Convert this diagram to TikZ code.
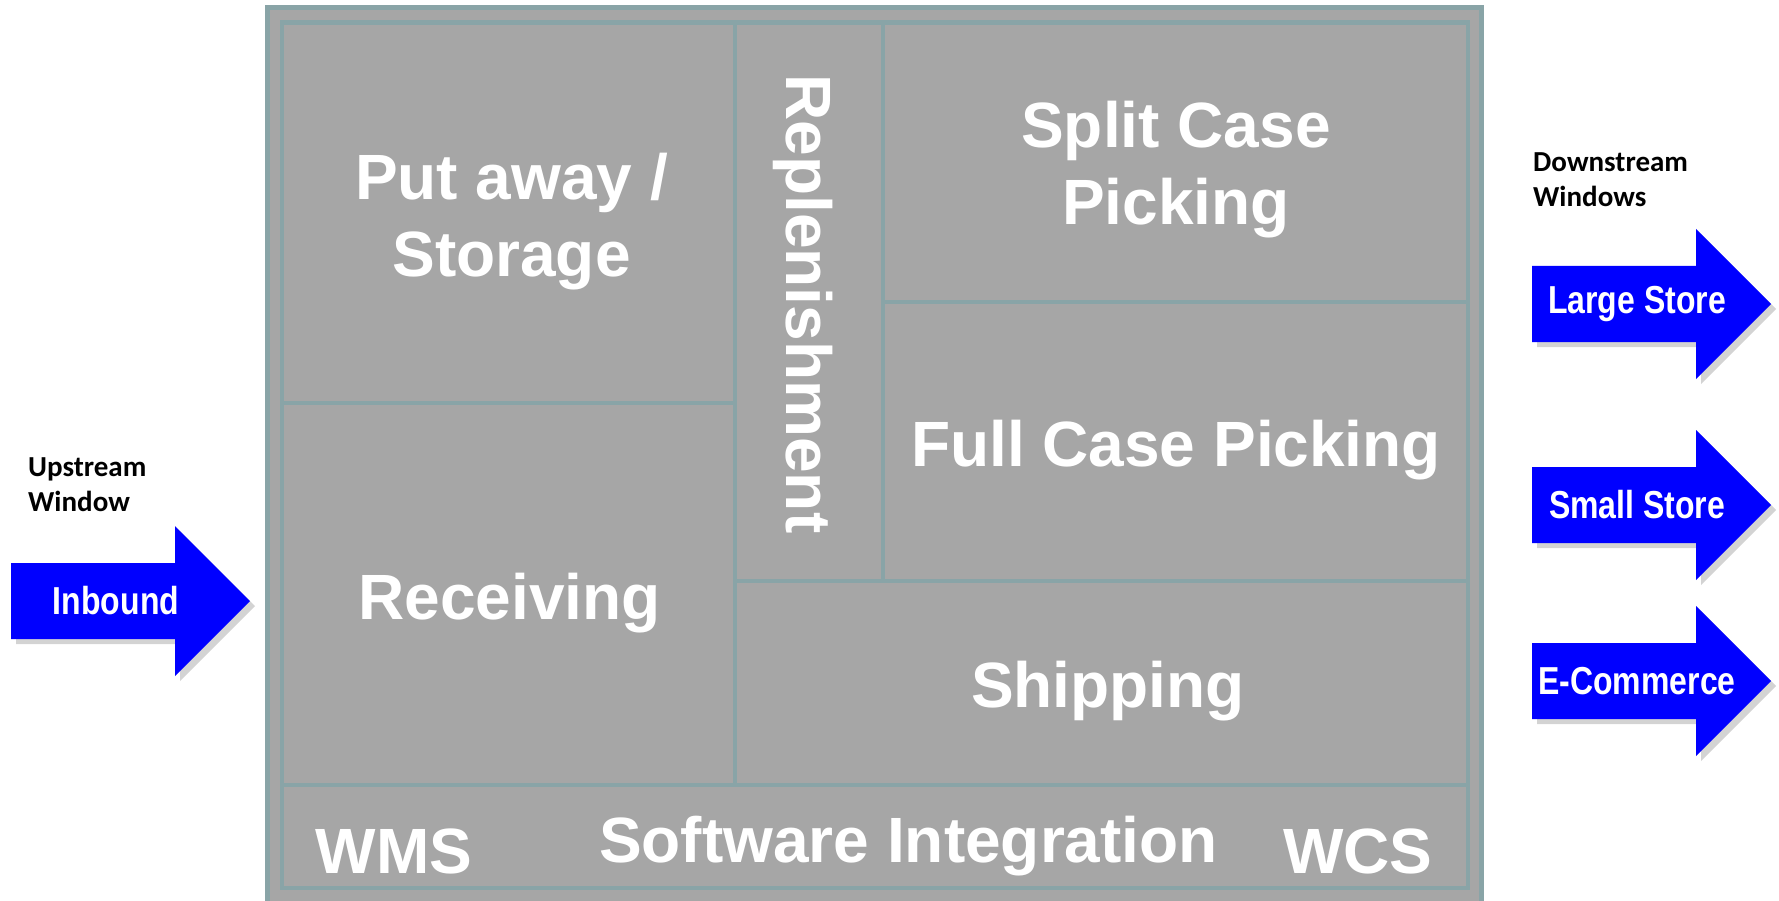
\documentclass[tikz,border=0pt]{standalone}
\usepackage{fontspec}
\setmainfont{Liberation Sans}
\newfontfamily\narrowfont[FakeStretch=0.82]{Liberation Sans}
\newfontfamily\notefont{Carlito}
\usetikzlibrary{positioning,shadows}
\definecolor{framegray}{RGB}{137,164,167}
\definecolor{boxgray}{RGB}{166,166,166}
\definecolor{flowblue}{RGB}{0,0,255}

\begin{document}
\begin{tikzpicture}[
   x=1pt, y=-1pt,
   area/.style={draw=framegray, line width=4.5pt, fill=boxgray, inner sep=0pt,
      outer sep=0pt},
   areatext/.style={text=white, font=\fontsize{64}{77}\selectfont\bfseries,
      align=center, inner sep=0pt},
   flow/.style={fill=flowblue, drop shadow={shadow xshift=5pt, shadow yshift=-5pt,
      opacity=0.35}},
   flowtxt/.style={text=white, font=\narrowfont\fontsize{39}{45}\selectfont\bfseries,
      inner sep=0pt},
   window/.style={font=\notefont\fontsize{29}{35}\selectfont\bfseries, align=left,
      anchor=west, inner sep=0pt}
]
\useasboundingbox (0,0) rectangle (1779,901);
\clip (0,0) rectangle (1779,901);

% warehouse block
\node[area, minimum width=1214pt, minimum height=920pt] (frame) at (874.5,467.5) {};
\node[area, minimum width=453pt, minimum height=380.5pt] (putaway) at (508.5,212.75) {};
\node[area, minimum width=453pt, minimum height=382pt] (receiving) at (508.5,594) {};
\node[area, minimum width=148pt, minimum height=558.5pt] (repl) at (809,301.75) {};
\node[area, minimum width=585pt, minimum height=279.5pt] (splitcase) at (1175.5,162.25) {};
\node[area, minimum width=585pt, minimum height=279pt] (fullcase) at (1175.5,441.5) {};
\node[area, minimum width=733pt, minimum height=204pt] (shipping) at (1101.5,683) {};
\node[area, minimum width=1186pt, minimum height=103pt] (software) at (875,836.5) {};

\node[areatext] (putawaytxt) at (511.5,222) {Put away /\\Storage};
\node[areatext] (receivingtxt) at (509.5,603) {Receiving};
\node[areatext, rotate=-90] (repltxt) at (803,304) {Replenishment};
\node[areatext] (splittxt) at (1176,170) {Split Case\\Picking};
\node[areatext] (fulltxt) at (1176,450) {Full Case Picking};
\node[areatext] (shippingtxt) at (1108,691) {Shipping};
\node[areatext, anchor=base] (softtxt) at (908.5,862) {Software Integration};
\node[areatext, anchor=base] (wms) at (394,873) {WMS};
\node[areatext, anchor=base] (wcs) at (1358,873) {WCS};

% windows
\node[window] (upwin) at (28,485) {Upstream\\Window};
\node[window] (downwin) at (1533,180) {Downstream\\Windows};

\foreach \nm/\x/\y/\txt in {inbound/11/601/Inbound, large/1532/304/Large Store,
   small/1532/505/Small Store, ecom/1532/681/E-Commerce}{
   \path[flow] (\x,\y) ++(0,-38) -- ++(164,0) -- ++(0,-37) -- ++(75,75)
      -- ++(-75,75) -- ++(0,-37) -- ++(-164,0) -- cycle;
   \node[flowtxt] (\nm) at (\x+105,\y) {\txt};
}
\end{tikzpicture}
\end{document}
